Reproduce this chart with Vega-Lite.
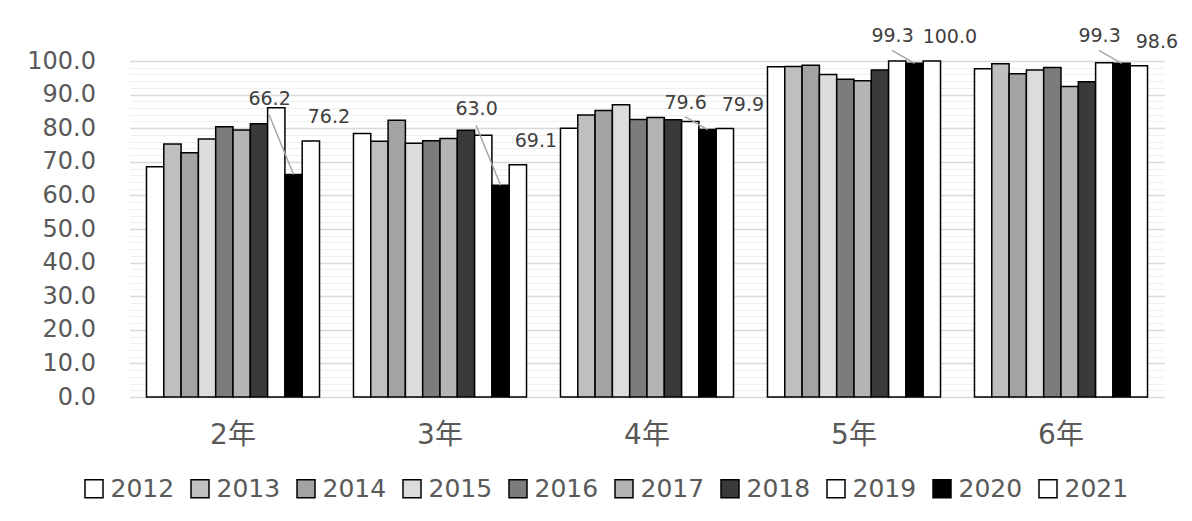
{
  "$schema": "https://vega.github.io/schema/vega-lite/v6.json",
  "width": 1035,
  "height": 336,
  "autosize": {"type": "none"},
  "padding": {"left": 129.5, "top": 61, "right": 27.5, "bottom": 124},
  "background": "white",
  "data": {
    "values": [
      {"grade": "2年", "year": "2012", "value": 68.5},
      {"grade": "2年", "year": "2013", "value": 75.3},
      {"grade": "2年", "year": "2014", "value": 72.7},
      {"grade": "2年", "year": "2015", "value": 76.8},
      {"grade": "2年", "year": "2016", "value": 80.4},
      {"grade": "2年", "year": "2017", "value": 79.5},
      {"grade": "2年", "year": "2018", "value": 81.3},
      {"grade": "2年", "year": "2019", "value": 86.1},
      {"grade": "2年", "year": "2020", "value": 66.2},
      {"grade": "2年", "year": "2021", "value": 76.2},
      {"grade": "3年", "year": "2012", "value": 78.4},
      {"grade": "3年", "year": "2013", "value": 76.1},
      {"grade": "3年", "year": "2014", "value": 82.4},
      {"grade": "3年", "year": "2015", "value": 75.5},
      {"grade": "3年", "year": "2016", "value": 76.3},
      {"grade": "3年", "year": "2017", "value": 76.9},
      {"grade": "3年", "year": "2018", "value": 79.4},
      {"grade": "3年", "year": "2019", "value": 77.9},
      {"grade": "3年", "year": "2020", "value": 63.0},
      {"grade": "3年", "year": "2021", "value": 69.1},
      {"grade": "4年", "year": "2012", "value": 80.0},
      {"grade": "4年", "year": "2013", "value": 83.9},
      {"grade": "4年", "year": "2014", "value": 85.3},
      {"grade": "4年", "year": "2015", "value": 87.0},
      {"grade": "4年", "year": "2016", "value": 82.6},
      {"grade": "4年", "year": "2017", "value": 83.2},
      {"grade": "4年", "year": "2018", "value": 82.5},
      {"grade": "4年", "year": "2019", "value": 82.0},
      {"grade": "4年", "year": "2020", "value": 79.6},
      {"grade": "4年", "year": "2021", "value": 79.9},
      {"grade": "5年", "year": "2012", "value": 98.3},
      {"grade": "5年", "year": "2013", "value": 98.4},
      {"grade": "5年", "year": "2014", "value": 98.7},
      {"grade": "5年", "year": "2015", "value": 96.0},
      {"grade": "5年", "year": "2016", "value": 94.6},
      {"grade": "5年", "year": "2017", "value": 94.1},
      {"grade": "5年", "year": "2018", "value": 97.3},
      {"grade": "5年", "year": "2019", "value": 100.0},
      {"grade": "5年", "year": "2020", "value": 99.3},
      {"grade": "5年", "year": "2021", "value": 100.0},
      {"grade": "6年", "year": "2012", "value": 97.7},
      {"grade": "6年", "year": "2013", "value": 99.2},
      {"grade": "6年", "year": "2014", "value": 96.2},
      {"grade": "6年", "year": "2015", "value": 97.3},
      {"grade": "6年", "year": "2016", "value": 98.1},
      {"grade": "6年", "year": "2017", "value": 92.4},
      {"grade": "6年", "year": "2018", "value": 93.8},
      {"grade": "6年", "year": "2019", "value": 99.5},
      {"grade": "6年", "year": "2020", "value": 99.3},
      {"grade": "6年", "year": "2021", "value": 98.6}
    ]
  },
  "encoding": {
    "x": {
      "field": "grade",
      "type": "nominal",
      "sort": ["2年", "3年", "4年", "5年", "6年"],
      "scale": {"paddingInner": 0.164, "paddingOuter": 0.082},
      "axis": {
        "title": null,
        "labelAngle": 0,
        "labelFontSize": 28,
        "labelColor": "#595959",
        "ticks": false,
        "domain": false,
        "grid": false,
        "labelPadding": 24
      }
    },
    "xOffset": {
      "field": "year",
      "type": "nominal",
      "scale": {
        "domain": ["2012", "2013", "2014", "2015", "2016", "2017", "2018", "2019", "2020", "2021"],
        "paddingInner": 0,
        "paddingOuter": 0
      }
    },
    "y": {
      "field": "value",
      "type": "quantitative",
      "scale": {"domain": [0, 100], "nice": false},
      "axis": {
        "title": null,
        "values": [0, 2, 4, 6, 8, 10, 12, 14, 16, 18, 20, 22, 24, 26, 28, 30, 32, 34, 36, 38, 40, 42, 44, 46, 48, 50, 52, 54, 56, 58, 60, 62, 64, 66, 68, 70, 72, 74, 76, 78, 80, 82, 84, 86, 88, 90, 92, 94, 96, 98, 100],
        "labelExpr": "datum.value % 10 === 0 ? format(datum.value, '.1f') : ''",
        "labelOverlap": false,
        "labelBound": false,
        "labelFontSize": 24,
        "labelColor": "#595959",
        "labelPadding": 34,
        "ticks": false,
        "domain": false,
        "grid": true,
        "gridColor": {"condition": {"test": "datum.value % 10 === 0", "value": "#d9d9d9"}, "value": "#efefef"},
        "gridWidth": {"condition": {"test": "datum.value % 10 === 0", "value": 1.5}, "value": 1}
      }
    }
  },
  "layer": [
    {
      "mark": {"type": "bar", "stroke": "black", "strokeWidth": 1.5},
      "encoding": {
        "color": {
          "field": "year",
          "type": "nominal",
          "scale": {
            "domain": ["2012", "2013", "2014", "2015", "2016", "2017", "2018", "2019", "2020", "2021"],
            "range": ["#ffffff", "#bfbfbf", "#a3a3a3", "#dcdcdc", "#7c7c7c", "#b4b4b4", "#3a3a3a", "#ffffff", "#000000", "#ffffff"]
          },
          "legend": {
            "title": null,
            "orient": "none",
            "legendX": -48,
            "legendY": 415,
            "direction": "horizontal",
            "columns": 10,
            "symbolType": "square",
            "symbolSize": 324,
            "symbolStrokeColor": "black",
            "symbolStrokeWidth": 1.5,
            "labelFontSize": 25,
            "labelColor": "#595959",
            "labelOffset": 4,
            "columnPadding": 13
          }
        }
      }
    },
    {
      "transform": [{"filter": "datum.year === '2021'"}],
      "mark": {"type": "text", "dx": 18, "dy": -24, "fontSize": 19, "color": "#404040"},
      "encoding": {"text": {"field": "value", "type": "quantitative", "format": ".1f"}}
    },
    {
      "transform": [{"filter": "datum.year === '2020' && (datum.grade === '2年' || datum.grade === '3年')"}],
      "mark": {"type": "text", "dx": -24, "dy": -76, "fontSize": 19, "color": "#404040"},
      "encoding": {"text": {"field": "value", "type": "quantitative", "format": ".1f"}}
    },
    {
      "transform": [{"filter": "datum.year === '2020' && datum.grade !== '2年' && datum.grade !== '3年'"}],
      "mark": {"type": "text", "dx": -22, "dy": -27, "fontSize": 19, "color": "#404040"},
      "encoding": {"text": {"field": "value", "type": "quantitative", "format": ".1f"}}
    },
    {
      "transform": [{"filter": "datum.year === '2020' && (datum.grade === '2年' || datum.grade === '3年')"}],
      "mark": {"type": "rule", "color": "#a6a6a6", "strokeWidth": 1.5, "x2Offset": 36, "y2Offset": -60},
      "encoding": {"x2": {"field": "grade"}, "y2": {"field": "value"}}
    },
    {
      "transform": [{"filter": "datum.year === '2020' && datum.grade !== '2年' && datum.grade !== '3年'"}],
      "mark": {"type": "rule", "color": "#a6a6a6", "strokeWidth": 1.5, "x2Offset": 38, "y2Offset": -13},
      "encoding": {"x2": {"field": "grade"}, "y2": {"field": "value"}}
    }
  ],
  "config": {
    "font": "DejaVu Sans, Noto Sans CJK JP",
    "view": {"stroke": null}
  }
}
